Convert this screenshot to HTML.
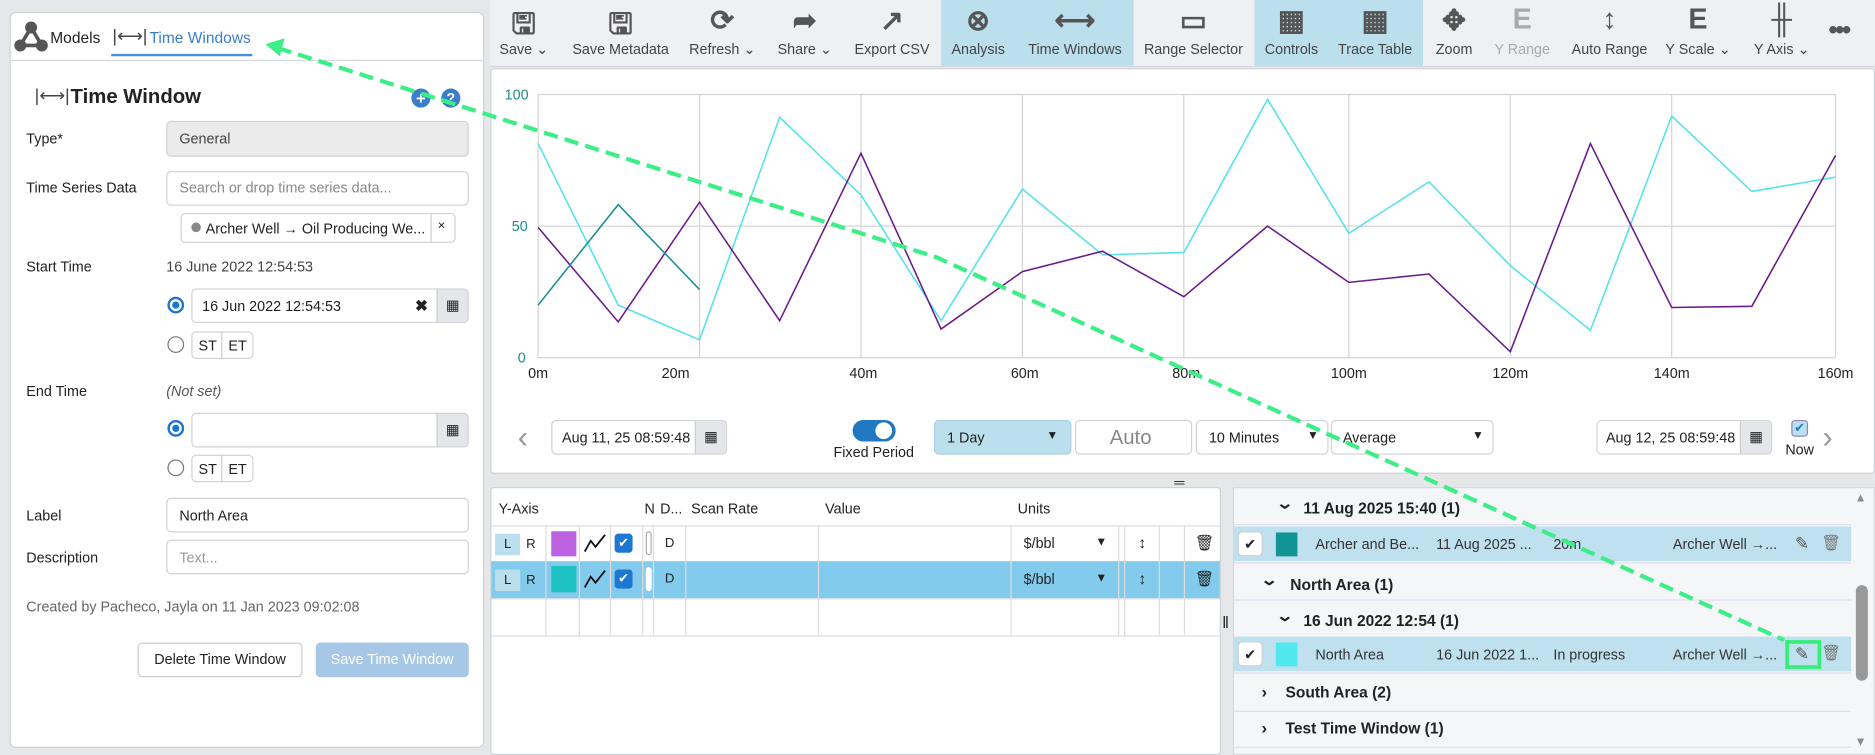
<!DOCTYPE html>
<html><head><meta charset="utf-8"><style>
*{box-sizing:border-box;margin:0;padding:0}
html,body{width:1875px;height:755px;overflow:hidden;background:#e6e7e9}
#r{position:absolute;left:0;top:0;width:1568px;height:631px;transform:scale(1.19579,1.19651);transform-origin:0 0;font-family:"Liberation Sans",sans-serif;font-size:12px;color:#222;background:#e6e7e9}
.a{position:absolute;white-space:nowrap}
.box{position:absolute;border:1px solid #cfd2d6;border-radius:4px;background:#fff}
.lbl{position:absolute;left:22px}
.tb{position:absolute;top:0;height:55px;text-align:center;font-size:12px;color:#444}
.tb .ic{position:absolute;top:3px;left:0;right:0;font-size:24px;color:#555;font-weight:bold}
.tb .tx{position:absolute;top:34px;left:0;right:0}
.bt{position:absolute;border:1px solid #ccc;border-radius:4px;background:#fff;font-size:12px}
.cal{position:absolute;right:0;top:0;bottom:0;width:26px;background:#e4e6ea;border-left:1px solid #ccc;text-align:center;line-height:26px;font-size:12px}
.rad{position:absolute;width:14px;height:14px;border-radius:50%;border:1px solid #777;background:#fff}
.rad.on{border:2px solid #1976d2}
.rad.on:after{content:"";position:absolute;left:2px;top:2px;width:6px;height:6px;border-radius:50%;background:#1976d2}
.grp{position:absolute;font-weight:bold;font-size:13px}
.chev{position:absolute;font-size:13px;font-weight:bold;transform:scaleX(1.4)}
</style></head><body><div id="r">

<div class="box" style="left:8px;top:10px;width:397px;height:615px;border-radius:5px"></div>
<div class="a" style="left:9px;top:50px;width:395px;height:1px;background:#d5d8dc"></div>
<svg class="a" style="left:11px;top:17px" width="30" height="28"><circle cx="15" cy="6" r="5" fill="#555"/><circle cx="6" cy="21" r="5" fill="#555"/><circle cx="24" cy="21" r="5" fill="#555"/><path d="M15 6L6 21L24 21Z" stroke="#555" stroke-width="3" fill="none"/></svg>
<div class="a" style="left:42px;top:24px;font-size:13px">Models</div>
<div class="a" style="left:94px;top:21px;font-size:15px;color:#444">|⟷|</div>
<div class="a" style="left:125px;top:24px;font-size:13px;color:#3a7fc8">Time Windows</div>
<div class="a" style="left:93px;top:45px;width:118px;height:2px;background:#4a90d9"></div>

<div class="a" style="left:29px;top:71px;font-size:15px;color:#444">|⟷|</div>
<div class="a" style="left:59px;top:71px;font-size:17px;font-weight:bold">Time Window</div>
<div class="a" style="left:344px;top:74px;width:16px;height:16px;border-radius:50%;background:#3a7fc8;color:#fff;font-weight:bold;text-align:center;line-height:16px;font-size:14px">+</div>
<div class="a" style="left:369px;top:74px;width:16px;height:16px;border-radius:50%;background:#3a7fc8;color:#fff;font-weight:bold;text-align:center;line-height:16px;font-size:12px">?</div>

<div class="lbl a" style="top:109px">Type*</div>
<div class="box" style="left:139px;top:101px;width:253px;height:30px;background:#ebebeb"></div>
<div class="a" style="left:150px;top:109px;color:#444">General</div>
<div class="lbl a" style="top:150px">Time Series Data</div>
<div class="box" style="left:139px;top:143px;width:253px;height:29px"></div>
<div class="a" style="left:150px;top:150px;color:#888">Search or drop time series data...</div>
<div class="box" style="left:151px;top:178px;width:230px;height:25px"></div>
<div class="a" style="left:360px;top:178px;width:1px;height:25px;background:#ccc"></div>
<div class="a" style="left:160px;top:186px;width:8px;height:8px;border-radius:50%;background:#888"></div>
<div class="a" style="left:172px;top:184px">Archer Well → Oil Producing We...</div>
<div class="a" style="left:366px;top:183px;font-size:11px">×</div>

<div class="lbl a" style="top:216px">Start Time</div>
<div class="a" style="left:139px;top:216px;color:#444">16 June 2022 12:54:53</div>
<div class="rad on" style="left:140px;top:248px"></div>
<div class="box" style="left:160px;top:241px;width:232px;height:29px;overflow:hidden"><div class="cal">▦</div></div>
<div class="a" style="left:169px;top:249px">16 Jun 2022 12:54:53</div>
<div class="a" style="left:347px;top:248px;font-weight:bold;font-size:13px">✖</div>
<div class="rad" style="left:140px;top:281px"></div>
<div class="box" style="left:160px;top:277px;width:52px;height:23px"></div>
<div class="a" style="left:185px;top:277px;width:1px;height:23px;background:#ccc"></div>
<div class="a" style="left:166px;top:282px">ST</div><div class="a" style="left:191px;top:282px">ET</div>

<div class="lbl a" style="top:320px">End Time</div>
<div class="a" style="left:139px;top:320px;font-style:italic;color:#555">(Not set)</div>
<div class="rad on" style="left:140px;top:351px"></div>
<div class="box" style="left:160px;top:345px;width:232px;height:29px;overflow:hidden"><div class="cal">▦</div></div>
<div class="rad" style="left:140px;top:384px"></div>
<div class="box" style="left:160px;top:380px;width:52px;height:23px"></div>
<div class="a" style="left:185px;top:380px;width:1px;height:23px;background:#ccc"></div>
<div class="a" style="left:166px;top:385px">ST</div><div class="a" style="left:191px;top:385px">ET</div>

<div class="lbl a" style="top:424px">Label</div>
<div class="box" style="left:139px;top:416px;width:253px;height:29px"></div>
<div class="a" style="left:150px;top:424px">North Area</div>
<div class="lbl a" style="top:459px">Description</div>
<div class="box" style="left:139px;top:451px;width:253px;height:29px"></div>
<div class="a" style="left:150px;top:459px;color:#999">Text...</div>
<div class="lbl a" style="top:500px;color:#666">Created by Pacheco, Jayla on 11 Jan 2023 09:02:08</div>
<div class="bt" style="left:115px;top:537px;width:138px;height:29px;text-align:center;line-height:27px">Delete Time Window</div>
<div class="bt" style="left:264px;top:537px;width:128px;height:29px;text-align:center;line-height:27px;background:#a7c7e6;border-color:#a7c7e6;color:#fff">Save Time Window</div>

<div class="a" style="left:410px;top:0;width:1158px;height:56px;background:#eef0f4;border-bottom:1px solid #d5d8dc"></div>
<div class="a" style="left:787px;top:0;width:161px;height:55px;background:#bcdfee"></div>
<div class="a" style="left:1049px;top:0;width:141px;height:55px;background:#bcdfee"></div>
<div class="tb" style="left:410px;width:56px"><div class="ic">🖫</div><div class="tx">Save ⌄</div></div>
<div class="tb" style="left:474px;width:90px"><div class="ic">🖫</div><div class="tx">Save Metadata</div></div>
<div class="tb" style="left:570px;width:68px"><div class="ic">⟳</div><div class="tx">Refresh ⌄</div></div>
<div class="tb" style="left:645px;width:56px"><div class="ic">➦</div><div class="tx">Share ⌄</div></div>
<div class="tb" style="left:710px;width:72px"><div class="ic">↗</div><div class="tx">Export CSV</div></div>
<div class="tb" style="left:790px;width:56px"><div class="ic">⊗</div><div class="tx">Analysis</div></div>
<div class="tb" style="left:852px;width:94px"><div class="ic">⟷</div><div class="tx">Time Windows</div></div>
<div class="tb" style="left:950px;width:96px"><div class="ic">▭</div><div class="tx">Range Selector</div></div>
<div class="tb" style="left:1052px;width:56px"><div class="ic">▦</div><div class="tx">Controls</div></div>
<div class="tb" style="left:1114px;width:72px"><div class="ic">▦</div><div class="tx">Trace Table</div></div>
<div class="tb" style="left:1196px;width:40px"><div class="ic">✥</div><div class="tx">Zoom</div></div>
<div class="tb" style="left:1245px;width:56px;color:#aaa"><div class="ic" style="color:#aaa">Ε</div><div class="tx">Y Range</div></div>
<div class="tb" style="left:1306px;width:80px"><div class="ic">↕</div><div class="tx">Auto Range</div></div>
<div class="tb" style="left:1390px;width:60px"><div class="ic">Ε</div><div class="tx">Y Scale ⌄</div></div>
<div class="tb" style="left:1460px;width:60px"><div class="ic">╫</div><div class="tx">Y Axis ⌄</div></div>
<div class="a" style="left:1529px;top:12px;font-size:22px;font-weight:bold;color:#555;letter-spacing:-2px">•••</div>

<div class="box" style="left:410px;top:57px;width:1158px;height:339px;border-radius:3px"></div>
<svg class="a" style="left:410px;top:57px" width="1158" height="339">
<g transform="translate(-410,-57)" fill="none">
<g stroke="#d4d4d4" stroke-width="1">
<line x1="450" y1="79" x2="1535" y2="79"/><line x1="450" y1="189" x2="1535" y2="189"/><line x1="450" y1="299" x2="1535" y2="299"/>
<line x1="585" y1="79" x2="585" y2="299"/><line x1="720" y1="79" x2="720" y2="299"/><line x1="855" y1="79" x2="855" y2="299"/><line x1="990" y1="79" x2="990" y2="299"/><line x1="1128" y1="79" x2="1128" y2="299"/><line x1="1263" y1="79" x2="1263" y2="299"/><line x1="1398" y1="79" x2="1398" y2="299"/><line x1="1535" y1="79" x2="1535" y2="299"/><line x1="450" y1="79" x2="450" y2="299"/>
</g>
<polyline stroke="#55e3e8" stroke-width="1.3" points="450,120 517,255 585,284 652,98 720,163 787,268 855,158 922,213 990,211 1060,83 1128,195 1195,152 1263,222 1330,276 1398,97 1465,160 1535,148"/>
<polyline stroke="#6a1b8a" stroke-width="1.3" points="450,190 517,269 585,169 652,268 720,128 787,275 855,227 922,210 990,248 1060,189 1128,236 1195,229 1263,294 1330,120 1398,257 1465,256 1535,130"/>
<polyline stroke="#1a9090" stroke-width="1.3" points="450,255 517,171 585,242"/>
<g font-family="Liberation Sans,sans-serif" font-size="12" fill="#1a8f8f" stroke="none">
<text x="422" y="83">100</text><text x="428" y="193">50</text><text x="433" y="303">0</text>
</g>
<g font-family="Liberation Sans,sans-serif" font-size="12" fill="#222" stroke="none" text-anchor="middle">
<text x="450" y="316">0m</text><text x="565" y="316">20m</text><text x="722" y="316">40m</text><text x="857" y="316">60m</text><text x="992" y="316">80m</text><text x="1128" y="316">100m</text><text x="1263" y="316">120m</text><text x="1398" y="316">140m</text><text x="1535" y="316">160m</text>
</g>
</g></svg>
<div class="a" style="left:433px;top:350px;font-size:26px;color:#999">‹</div>
<div class="box" style="left:461px;top:351px;width:147px;height:29px;overflow:hidden"><div class="cal">▦</div></div>
<div class="a" style="left:470px;top:359px">Aug 11, 25 08:59:48</div>
<div class="a" style="left:713px;top:351px;width:36px;height:18px;border-radius:9px;background:#1f78c0"></div>
<div class="a" style="left:732px;top:353px;width:14px;height:14px;border-radius:50%;background:#fff"></div>
<div class="a" style="left:697px;top:371px">Fixed Period</div>
<div class="box" style="left:781px;top:351px;width:115px;height:29px;background:#bcdfee;border-color:#a9cfe0"></div>
<div class="a" style="left:792px;top:359px">1 Day</div><div class="a" style="left:875px;top:359px;font-size:10px">▼</div>
<div class="box" style="left:899px;top:351px;width:98px;height:29px"></div>
<div class="a" style="left:928px;top:356px;font-size:17px;color:#888">Auto</div>
<div class="box" style="left:1000px;top:351px;width:111px;height:29px"></div>
<div class="a" style="left:1011px;top:359px">10 Minutes</div><div class="a" style="left:1093px;top:359px;font-size:10px">▼</div>
<div class="box" style="left:1113px;top:351px;width:136px;height:29px"></div>
<div class="a" style="left:1123px;top:359px">Average</div><div class="a" style="left:1231px;top:359px;font-size:10px">▼</div>
<div class="box" style="left:1335px;top:351px;width:147px;height:29px;overflow:hidden"><div class="cal">▦</div></div>
<div class="a" style="left:1343px;top:359px">Aug 12, 25 08:59:48</div>
<div class="a" style="left:1498px;top:351px;width:14px;height:14px;border-radius:3px;background:#bcdfee;border:1px solid #88b;color:#1f78c0;font-size:11px;line-height:12px;text-align:center">✔</div>
<div class="a" style="left:1493px;top:369px">Now</div>
<div class="a" style="left:1524px;top:350px;font-size:26px;color:#999">›</div>

<div class="a" style="left:982px;top:396px;font-size:12px;color:#333">═</div>

<div class="box" style="left:410px;top:407px;width:611px;height:224px;border-radius:3px"></div>
<div class="a" style="left:411px;top:439px;width:609px;height:1px;background:#ddd"></div>
<div class="a" style="left:411px;top:469px;width:609px;height:31px;background:#82cbec"></div>
<div class="a" style="left:411px;top:500px;width:609px;height:1px;background:#ddd"></div>
<div class="a" style="left:411px;top:531px;width:609px;height:1px;background:#ddd"></div>
<div class="a" style="left:456px;top:440px;width:1px;height:91px;background:#ddd"></div>
<div class="a" style="left:484px;top:440px;width:1px;height:91px;background:#ddd"></div>
<div class="a" style="left:510px;top:440px;width:1px;height:91px;background:#ddd"></div>
<div class="a" style="left:537px;top:440px;width:1px;height:91px;background:#ddd"></div>
<div class="a" style="left:546px;top:440px;width:1px;height:91px;background:#ddd"></div>
<div class="a" style="left:573px;top:440px;width:1px;height:91px;background:#ddd"></div>
<div class="a" style="left:684px;top:440px;width:1px;height:91px;background:#ddd"></div>
<div class="a" style="left:845px;top:440px;width:1px;height:91px;background:#ddd"></div>
<div class="a" style="left:935px;top:440px;width:1px;height:91px;background:#ddd"></div>
<div class="a" style="left:940px;top:440px;width:1px;height:91px;background:#ddd"></div>
<div class="a" style="left:969px;top:440px;width:1px;height:91px;background:#ddd"></div>
<div class="a" style="left:990px;top:440px;width:1px;height:91px;background:#ddd"></div>
<div class="a" style="left:417px;top:418px">Y-Axis</div>
<div class="a" style="left:539px;top:418px">N</div><div class="a" style="left:552px;top:418px">D...</div>
<div class="a" style="left:578px;top:418px">Scan Rate</div><div class="a" style="left:690px;top:418px">Value</div><div class="a" style="left:851px;top:418px">Units</div>
<div class="a" style="left:414px;top:446px;width:21px;height:18px;background:#bcdfee;text-align:center;line-height:18px;font-size:11px">L</div>
<div class="a" style="left:440px;top:449px;font-size:11px">R</div>
<div class="a" style="left:461px;top:444px;width:21px;height:21px;background:#bd62e0"></div>
<svg class="a" style="left:488px;top:446px" width="20" height="16"><polyline points="1,15 6,6 10,11 18,1" fill="none" stroke="#111" stroke-width="1.5"/></svg>
<div class="a" style="left:514px;top:446px;width:15px;height:16px;border-radius:3px;background:#1c78d0;color:#fff;font-size:11px;text-align:center;line-height:16px">✔</div>
<div class="a" style="left:540px;top:444px;width:5px;height:20px;border-radius:3px;border:1px solid #aaa"></div>
<div class="a" style="left:556px;top:448px;font-size:11px">D</div>
<div class="a" style="left:856px;top:447px">$/bbl</div><div class="a" style="left:916px;top:448px;font-size:10px">▼</div>
<div class="a" style="left:952px;top:446px;font-size:13px;font-weight:bold">↕</div>
<div class="a" style="left:999px;top:446px;font-size:13px">🗑</div>
<div class="a" style="left:414px;top:476px;width:21px;height:18px;background:#bcdfee;text-align:center;line-height:18px;font-size:11px">L</div>
<div class="a" style="left:440px;top:479px;font-size:11px">R</div>
<div class="a" style="left:461px;top:473px;width:21px;height:22px;background:#1ec2c2"></div>
<svg class="a" style="left:488px;top:476px" width="20" height="16"><polyline points="1,15 6,6 10,11 18,1" fill="none" stroke="#111" stroke-width="1.5"/></svg>
<div class="a" style="left:514px;top:476px;width:15px;height:16px;border-radius:3px;background:#1c78d0;color:#fff;font-size:11px;text-align:center;line-height:16px">✔</div>
<div class="a" style="left:540px;top:474px;width:5px;height:20px;border-radius:3px;background:#fff"></div>
<div class="a" style="left:556px;top:478px;font-size:11px">D</div>
<div class="a" style="left:856px;top:477px">$/bbl</div><div class="a" style="left:916px;top:478px;font-size:10px">▼</div>
<div class="a" style="left:952px;top:476px;font-size:13px;font-weight:bold">↕</div>
<div class="a" style="left:999px;top:476px;font-size:13px">🗑</div>
<div class="a" style="left:1022px;top:512px;font-size:14px">‖</div>

<div class="a" style="left:1031px;top:407px;width:537px;height:224px;background:#f5f6f8;border:1px solid #d5d8dc"></div>
<div class="a" style="left:1032px;top:438px;width:516px;height:1px;background:#dde"></div>
<div class="a" style="left:1032px;top:440px;width:516px;height:29px;background:#bfe0ee"></div>
<div class="a" style="left:1032px;top:470px;width:516px;height:1px;background:#dde"></div>
<div class="a" style="left:1032px;top:501px;width:516px;height:1px;background:#dde"></div>
<div class="a" style="left:1032px;top:532px;width:516px;height:29px;background:#bfe0ee"></div>
<div class="a" style="left:1032px;top:562px;width:516px;height:1px;background:#dde"></div>
<div class="a" style="left:1032px;top:594px;width:516px;height:1px;background:#dde"></div>
<div class="a" style="left:1032px;top:624px;width:516px;height:1px;background:#dde"></div>
<div class="chev" style="left:1069px;top:413px">⌄</div>
<div class="grp" style="left:1090px;top:417px">11 Aug 2025 15:40 (1)</div>
<div class="box" style="left:1035px;top:444px;width:21px;height:21px;text-align:center;line-height:20px;font-size:12px">✔</div>
<div class="a" style="left:1067px;top:445px;width:18px;height:20px;background:#139494"></div>
<div class="a" style="left:1100px;top:448px;color:#333">Archer and Be...</div>
<div class="a" style="left:1201px;top:448px;color:#333">11 Aug 2025 ...</div>
<div class="a" style="left:1299px;top:448px;color:#333">20m</div>
<div class="a" style="left:1399px;top:448px;color:#333">Archer Well →...</div>
<div class="a" style="left:1501px;top:446px;font-size:14px;color:#555">✎</div>
<div class="a" style="left:1523px;top:446px;font-size:13px;color:#777">🗑</div>
<div class="chev" style="left:1056px;top:477px">⌄</div>
<div class="grp" style="left:1079px;top:481px">North Area (1)</div>
<div class="chev" style="left:1069px;top:507px">⌄</div>
<div class="grp" style="left:1090px;top:511px">16 Jun 2022 12:54 (1)</div>
<div class="box" style="left:1035px;top:536px;width:21px;height:21px;text-align:center;line-height:20px;font-size:12px">✔</div>
<div class="a" style="left:1067px;top:537px;width:18px;height:20px;background:#50e8ec"></div>
<div class="a" style="left:1100px;top:540px;color:#333">North Area</div>
<div class="a" style="left:1201px;top:540px;color:#333">16 Jun 2022 1...</div>
<div class="a" style="left:1299px;top:540px;color:#333">In progress</div>
<div class="a" style="left:1399px;top:540px;color:#333">Archer Well →...</div>
<div class="a" style="left:1493px;top:535px;width:30px;height:24px;border:3px solid #33ee77"></div>
<div class="a" style="left:1501px;top:538px;font-size:14px;color:#555">✎</div>
<div class="a" style="left:1523px;top:538px;font-size:13px;color:#777">🗑</div>
<div class="a" style="left:1055px;top:570px;font-size:14px;font-weight:bold">›</div>
<div class="grp" style="left:1075px;top:571px">South Area (2)</div>
<div class="a" style="left:1055px;top:600px;font-size:14px;font-weight:bold">›</div>
<div class="grp" style="left:1075px;top:601px">Test Time Window (1)</div>
<div class="a" style="left:1551px;top:411px;font-size:10px;color:#888">▲</div>
<div class="a" style="left:1552px;top:489px;width:10px;height:80px;border-radius:5px;background:#999"></div>
<div class="a" style="left:1551px;top:615px;font-size:10px;color:#888">▼</div>

<svg class="a" style="left:0;top:0" width="1568" height="631">
<polyline points="232,40 783,215 1492,535" fill="none" stroke="#3dee88" stroke-width="3.5" stroke-dasharray="12,6"/>
<path d="M222,37 L238,32 L234,47 Z" fill="#3dee88"/>
</svg>
</div></body></html>
